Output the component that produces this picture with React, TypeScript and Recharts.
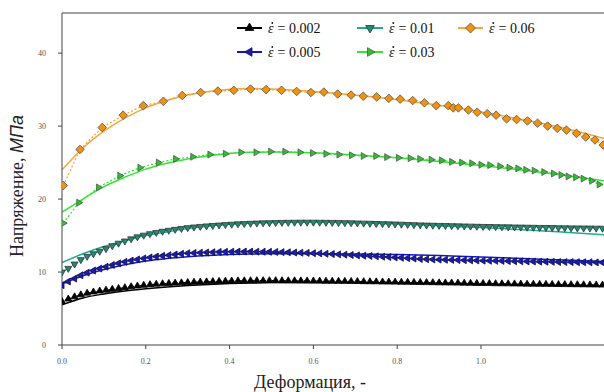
import React from "react";
import { ComposedChart, Line, XAxis, YAxis, ReferenceLine } from "recharts";

// ---- data ----
const strainDense = [0,0.015,0.03,0.045,0.06,0.075,0.09,0.105,0.12,0.135,0.15,0.165,0.18,0.195,0.21,0.225,0.24,0.255,0.27,0.285,0.3,0.315,0.33,0.345,0.36,0.375,0.39,0.405,0.42,0.435,0.45,0.465,0.48,0.495,0.51,0.525,0.54,0.555,0.57,0.585,0.6,0.615,0.63,0.645,0.66,0.675,0.69,0.705,0.72,0.735,0.75,0.765,0.78,0.795,0.81,0.825,0.84,0.855,0.87,0.885,0.9,0.915,0.93,0.945,0.96,0.975,0.99,1.005,1.02,1.035,1.05,1.065,1.08,1.095,1.11,1.125,1.14,1.155,1.17,1.185,1.2,1.215,1.23,1.245,1.26,1.275,1.29];

const stress002 = [5.95,6.3,6.6,6.88,7.1,7.27,7.4,7.52,7.63,7.74,7.86,7.98,8.08,8.18,8.27,8.33,8.39,8.44,8.48,8.52,8.56,8.6,8.63,8.66,8.69,8.72,8.75,8.77,8.79,8.8,8.81,8.82,8.82,8.82,8.82,8.81,8.8,8.8,8.79,8.78,8.77,8.76,8.75,8.74,8.73,8.72,8.71,8.7,8.68,8.67,8.66,8.64,8.63,8.62,8.6,8.59,8.58,8.56,8.55,8.54,8.52,8.51,8.5,8.48,8.47,8.46,8.44,8.43,8.42,8.4,8.39,8.38,8.37,8.35,8.34,8.33,8.32,8.31,8.3,8.29,8.28,8.27,8.26,8.25,8.24,8.23,8.22];

const stress005 = [8.2,8.7,9.1,9.55,9.92,10.2,10.48,10.73,10.97,11.2,11.4,11.57,11.73,11.87,12.0,12.12,12.22,12.31,12.4,12.5,12.58,12.62,12.65,12.68,12.72,12.75,12.77,12.79,12.8,12.8,12.8,12.79,12.78,12.77,12.75,12.73,12.7,12.67,12.65,12.62,12.58,12.55,12.5,12.46,12.42,12.38,12.33,12.28,12.24,12.2,12.15,12.1,12.05,12.0,11.95,11.9,11.85,11.8,11.76,11.72,11.7,11.68,11.66,11.64,11.62,11.6,11.58,11.56,11.55,11.53,11.52,11.5,11.48,11.47,11.45,11.44,11.42,11.41,11.4,11.38,11.37,11.36,11.35,11.34,11.33,11.32,11.3];

const stress01 = [10.0,10.5,11.1,11.7,12.15,12.5,12.85,13.2,13.6,13.95,14.25,14.55,14.82,15.05,15.25,15.43,15.58,15.72,15.85,15.97,16.08,16.17,16.25,16.32,16.38,16.44,16.5,16.55,16.6,16.64,16.68,16.71,16.74,16.76,16.78,16.8,16.81,16.82,16.83,16.83,16.83,16.82,16.81,16.8,16.78,16.76,16.74,16.72,16.7,16.68,16.65,16.63,16.6,16.58,16.55,16.52,16.49,16.46,16.43,16.41,16.39,16.37,16.35,16.33,16.31,16.29,16.27,16.25,16.24,16.22,16.2,16.19,16.17,16.16,16.14,16.13,16.11,16.1,16.09,16.07,16.06,16.05,16.04,16.03,16.02,16.01,16.0];

const strain03 = [0.003,0.04,0.087,0.138,0.186,0.23,0.271,0.312,0.353,0.39,0.427,0.463,0.498,0.532,0.568,0.598,0.63,0.661,0.691,0.719,0.749,0.775,0.803,0.831,0.854,0.881,0.906,0.93,0.954,0.978,1.0,1.021,1.045,1.067,1.088,1.107,1.127,1.15,1.173,1.191,1.208,1.226,1.244,1.264,1.282];
const stress03 = [16.7,19.5,21.6,23.2,24.3,25.0,25.5,25.8,26.1,26.2,26.4,26.4,26.5,26.5,26.4,26.3,26.2,26.1,26.0,25.9,25.9,25.75,25.65,25.6,25.5,25.4,25.3,25.1,25.0,24.9,24.7,24.65,24.5,24.3,24.2,24.0,23.9,23.7,23.5,23.3,23.1,23.0,22.8,22.5,22.0];

const strain06 = [0.003,0.043,0.096,0.146,0.194,0.242,0.287,0.331,0.372,0.41,0.45,0.487,0.524,0.56,0.594,0.625,0.658,0.69,0.719,0.751,0.78,0.807,0.837,0.865,0.893,0.922,0.934,0.946,0.97,0.991,1.015,1.036,1.061,1.085,1.111,1.135,1.159,1.182,1.204,1.228,1.25,1.272,1.292];
const stress06 = [21.85,26.8,29.8,31.5,32.8,33.4,34.2,34.6,34.8,34.9,35.07,35.0,34.9,34.75,34.6,34.66,34.4,34.25,34.1,34.0,33.8,33.7,33.5,33.2,32.8,32.8,32.5,32.5,32.2,31.9,31.7,31.5,31.0,30.9,30.7,30.4,30.0,29.7,29.45,29.0,28.5,28.1,27.4];

const fitStrain = [0,0.05,0.1,0.15,0.2,0.25,0.3,0.35,0.4,0.45,0.5,0.6,0.7,0.8,0.9,1.0,1.1,1.2,1.294];
const fit002 = [5.5,6.45,7.0,7.4,7.7,7.95,8.15,8.3,8.42,8.5,8.55,8.58,8.56,8.5,8.42,8.34,8.25,8.15,8.05];
const fit005 = [8.4,9.5,10.35,11.0,11.5,11.85,12.1,12.28,12.4,12.47,12.5,12.5,12.47,12.4,12.25,12.05,11.85,11.65,11.45];
const fit01 = [11.3,12.5,13.5,14.3,15.0,15.5,15.95,16.3,16.55,16.7,16.8,16.85,16.75,16.6,16.35,16.1,15.8,15.45,15.1];
const fit03 = [18.2,20.0,21.7,23.0,24.1,24.9,25.5,25.95,26.25,26.4,26.45,26.35,26.05,25.65,25.15,24.6,23.95,23.25,22.5];
const fit06 = [24.0,27.0,29.3,31.1,32.5,33.5,34.25,34.75,35.05,35.15,35.1,34.75,34.25,33.6,32.85,31.95,30.9,29.7,28.3];

const xTicks = [0, 0.2, 0.4, 0.6, 0.8, 1.0];
const yTicks = [0, 10, 20, 30, 40];
const rateLabels = ["0.002", "0.005", "0.01", "0.03", "0.06"];

const toPts = (xs: number[], ys: number[]) => xs.map((x, i) => ({ x, y: ys[i] }));

type Shape = "up" | "down" | "left" | "right" | "diamond";

function markerPoints(shape: Shape, cx: number, cy: number, r: number) {
  const a = r * 0.87, b = r * 0.5;
  switch (shape) {
    case "up": return `${cx},${cy - r} ${cx + a},${cy + b} ${cx - a},${cy + b}`;
    case "down": return `${cx},${cy + r} ${cx + a},${cy - b} ${cx - a},${cy - b}`;
    case "left": return `${cx - r},${cy} ${cx + b},${cy - a} ${cx + b},${cy + a}`;
    case "right": return `${cx + r},${cy} ${cx - b},${cy - a} ${cx - b},${cy + a}`;
    default: return `${cx},${cy - r} ${cx + r},${cy} ${cx},${cy + r} ${cx - r},${cy}`;
  }
}

const makeDot = (shape: Shape, fill: string, stroke: string, r: number) => (props: any) => {
  const { cx, cy, index } = props;
  if (cx == null || cy == null) return <g key={`d${index}`} />;
  return (
    <polygon key={`d${index}`} points={markerPoints(shape, cx, cy, r)} fill={fill} stroke={stroke} strokeWidth={0.8} />
  );
};

const series = [
  { label: rateLabels[0], exp: toPts(strainDense, stress002), fit: toPts(fitStrain, fit002), line: "#000000", fill: "#000000", stroke: "#000000", shape: "up" as Shape, r: 4 },
  { label: rateLabels[1], exp: toPts(strainDense, stress005), fit: toPts(fitStrain, fit005), line: "#1414c8", fill: "#1a1ab4", stroke: "#101040", shape: "left" as Shape, r: 4 },
  { label: rateLabels[2], exp: toPts(strainDense, stress01), fit: toPts(fitStrain, fit01), line: "#22a88c", fill: "#1e8c74", stroke: "#333333", shape: "down" as Shape, r: 4 },
  { label: rateLabels[3], exp: toPts(strain03, stress03), fit: toPts(fitStrain, fit03), line: "#33e633", fill: "#2fc02f", stroke: "#555555", shape: "right" as Shape, r: 4 },
  { label: rateLabels[4], exp: toPts(strain06, stress06), fit: toPts(fitStrain, fit06), line: "#f5a63c", fill: "#f0920e", stroke: "#555555", shape: "diamond" as Shape, r: 4.3 },
];

const legendPos = [
  { s: 0, x1: 237, x2: 262, y: 28 },
  { s: 1, x1: 237, x2: 262, y: 52 },
  { s: 2, x1: 357, x2: 383, y: 28 },
  { s: 3, x1: 357, x2: 383, y: 52 },
  { s: 4, x1: 458, x2: 483, y: 28 },
];

const serif = "'Liberation Serif', 'Times New Roman', serif";

export default function App() {
  return (
    <div style={{ position: "absolute", left: 0, top: 0, width: 604, height: 392, background: "#fff", overflow: "hidden" }}>
      <ComposedChart width={604} height={392} margin={{ top: 13, right: 0, bottom: 0, left: 0 }}>
        <XAxis
          type="number"
          dataKey="x"
          domain={[0, 1.2936]}
          ticks={xTicks}
          allowDataOverflow
          height={47}
          stroke="#444"
          tickSize={4}
          tickMargin={9}
          tick={{ fontSize: 8, fill: "#555", fontFamily: serif }}
          tickFormatter={(v: number) => v.toFixed(1)}
        />
        <YAxis
          type="number"
          dataKey="y"
          domain={[0, 45.5]}
          ticks={yTicks}
          allowDataOverflow
          width={62}
          stroke="#444"
          tickSize={4}
          tickMargin={12}
          tick={{ fontSize: 8, fill: "#555", fontFamily: serif }}
        />
        <ReferenceLine y={45.5} stroke="#444" strokeWidth={1} ifOverflow="visible" />
        {series.map((s, i) => (
          <Line
            key={`exp${i}`}
            data={s.exp}
            dataKey="y"
            type="linear"
            stroke={s.line}
            strokeWidth={1.2}
            strokeDasharray="2 2"
            dot={makeDot(s.shape, s.fill, s.stroke, s.r)}
            activeDot={false}
            isAnimationActive={false}
          />
        ))}
        {series.map((s, i) => (
          <Line
            key={`fit${i}`}
            data={s.fit}
            dataKey="y"
            type="monotone"
            stroke={s.line}
            strokeWidth={1.5}
            dot={false}
            activeDot={false}
            isAnimationActive={false}
          />
        ))}
      </ComposedChart>
      <svg width={604} height={392} style={{ position: "absolute", left: 0, top: 0, pointerEvents: "none" }}>
        {legendPos.map((p) => {
          const s = series[p.s];
          const cx = (p.x1 + p.x2) / 2;
          const tx = p.x2 + 6;
          return (
            <g key={`lg${p.s}`}>
              <line x1={p.x1} x2={p.x2} y1={p.y} y2={p.y} stroke={s.line} strokeWidth={2} />
              <polygon points={markerPoints(s.shape, cx, p.y, 5)} fill={s.fill} stroke={s.stroke} strokeWidth={0.8} />
              <circle cx={tx + 4.3} cy={p.y - 5} r={0.9} fill="#111" />
              <text x={tx} y={p.y + 5} fontFamily={serif} fontSize={14} fill="#111">
                <tspan fontStyle="italic">ε</tspan>
                <tspan dx={4}>= {s.label}</tspan>
              </text>
            </g>
          );
        })}
        <text transform="rotate(-90)" x={-186} y={23} textAnchor="middle" fontSize={18} fill="#222" fontFamily={serif}>
          <tspan>Напряжение, </tspan>
          <tspan fontStyle="italic" fontFamily="'Liberation Sans', Arial, sans-serif">МПа</tspan>
        </text>
        <text x={310} y={388} textAnchor="middle" fontSize={18} fill="#222" fontFamily={serif}>
          Деформация, -
        </text>
      </svg>
    </div>
  );
}
